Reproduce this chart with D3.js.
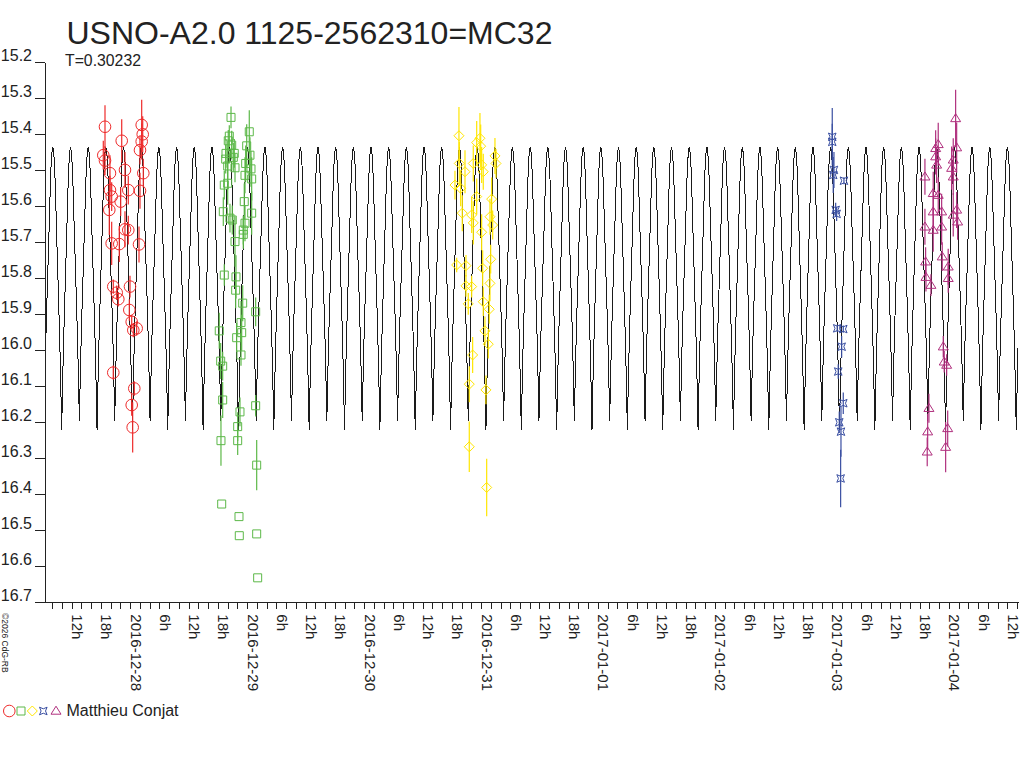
<!DOCTYPE html>
<html><head><meta charset="utf-8">
<script src="https://cdn.jsdelivr.net/npm/d3@7"></script>
<style>
html,body{margin:0;padding:0;background:#fff;}
svg{display:block;font-family:"Liberation Sans",Arial,sans-serif;}
</style></head><body>
<svg id="chart" width="1024" height="768"></svg>
<script>
// ---------------- data ----------------
const titleText = "USNO-A2.0 1125-2562310=MC32";
const periodText = "T=0.30232";
const observerName = "Matthieu Conjat";
const copyrightText = "©2026 CdG-RB";

const periodDays = 0.30232;
const epochHours = -14.06;          // primary minimum, hours from 2016-12-28 00:00 UT
const xStartISO = "2016-12-27T06:31:00Z";
const xEndISO = "2017-01-04T14:12:00Z";
const baseISO = "2016-12-28T00:00:00Z";

// model light curve over one period (phase 0 = primary minimum)
const phaseGrid = [0,0.025,0.05,0.075,0.1,0.125,0.15,0.175,0.2,0.225,0.25,
  0.275,0.3,0.325,0.35,0.375,0.4,0.425,0.45,0.475,0.5,
  0.525,0.55,0.575,0.6,0.625,0.65,0.675,0.7,0.725,0.75,
  0.775,0.8,0.825,0.85,0.875,0.9,0.925,0.95,0.975,1];
const phaseMag = [16.22,16.10,15.993,15.902,15.819,15.735,15.651,15.561,15.49,15.451,15.435,
  15.450,15.488,15.557,15.644,15.725,15.807,15.887,15.975,16.079,16.195,
  16.079,15.975,15.887,15.807,15.725,15.644,15.557,15.488,15.450,15.435,
  15.451,15.49,15.561,15.651,15.735,15.819,15.902,15.993,16.10,16.22];

const yTicks = [15.2,15.3,15.4,15.5,15.6,15.7,15.8,15.9,16.0,16.1,16.2,16.3,16.4,16.5,16.6,16.7];
const hourTickHours = [6,12,18];
const hourTickLabels = ["6h","12h","18h"];
const dayLabels = ["2016-12-28","2016-12-29","2016-12-30","2016-12-31","2017-01-01","2017-01-02","2017-01-03","2017-01-04"];

// observations: [hours from 2016-12-28 00:00 UT, magnitude, error]
const redObs = [
[-5.17,15.379,0.06],[-1.74,15.418,0.06],[2.36,15.374,0.07],[2.57,15.400,0.05],[2.36,15.420,0.05],
[2.01,15.444,0.04],[-5.52,15.458,0.04],[-5.17,15.473,0.04],[-4.15,15.508,0.05],[-1.07,15.499,0.05],
[2.69,15.508,0.04],[-4.15,15.555,0.04],[-0.39,15.555,0.04],[2.01,15.557,0.05],[-3.80,15.573,0.04],
[-1.95,15.587,0.04],[-4.29,15.610,0.07],[-1.07,15.664,0.05],[-0.39,15.666,0.04],[-3.80,15.703,0.06],
[-2.24,15.705,0.05],[1.81,15.706,0.05],[-3.47,15.823,0.02],[-2.77,15.840,0.02],[-2.44,15.858,0.02],
[-0.04,15.823,0.03],[-0.18,15.888,0.03],[0.31,15.921,0.02],[1.33,15.939,0.02],[0.64,15.944,0.02],
[-3.47,16.062,0.02],[0.84,16.106,0.02],[0.31,16.152,0.03],[0.51,16.214,0.07]];

const greenObs = [
[20.69,15.353,0.03],[24.44,15.393,0.06],[20.34,15.405,0.03],[20.13,15.418,0.03],[20.83,15.430,0.04],
[23.91,15.432,0.06],[21.36,15.453,0.04],[19.66,15.453,0.04],[24.58,15.458,0.05],[19.60,15.469,0.04],
[21.16,15.464,0.04],[23.70,15.481,0.05],[20.01,15.488,0.05],[21.51,15.493,0.04],[24.79,15.496,0.05],
[23.56,15.514,0.05],[24.93,15.524,0.06],[19.31,15.541,0.04],[20.01,15.536,0.06],[23.41,15.587,0.05],
[19.11,15.615,0.04],[24.93,15.619,0.06],[20.48,15.633,0.04],[20.95,15.638,0.04],[23.56,15.647,0.05],
[23.21,15.666,0.04],[23.21,15.678,0.04],[21.51,15.698,0.07],[19.31,15.791,0.03],[21.71,15.796,0.06],
[21.65,15.833,0.05],[23.09,15.869,0.05],[25.75,15.893,0.04],[22.74,15.923,0.06],[18.28,15.946,0.05],
[22.88,15.951,0.05],[21.85,15.965,0.04],[22.74,16.013,0.03],[18.57,16.030,0.05],[18.98,16.044,0.04],
[18.98,16.138,0.05],[25.75,16.154,0.03],[22.53,16.171,0.04],[22.06,16.212,0.04],[18.63,16.251,0.07],
[22.06,16.251,0.04],[25.96,16.319,0.07],[18.78,16.427,0],[22.33,16.462,0],[22.39,16.515,0],
[25.96,16.510,0],[26.16,16.632,0]];

const yellowObs = [
[67.47,15.404,0.08],[71.78,15.411,0.07],[71.11,15.423,0.06],[71.93,15.433,0.06],[67.54,15.481,0.06],
[70.41,15.481,0.05],[74.86,15.460,0.05],[75.07,15.481,0.04],[72.13,15.485,0.05],[68.71,15.504,0.06],
[72.46,15.504,0.05],[66.65,15.541,0.04],[67.82,15.550,0.05],[71.11,15.573,0.05],[74.18,15.580,0.06],
[68.15,15.619,0.05],[70.08,15.624,0.05],[73.84,15.629,0.05],[70.41,15.646,0.06],[74.39,15.652,0.04],
[72.13,15.672,0.05],[67.00,15.763,0.02],[68.91,15.765,0.03],[72.34,15.772,0.05],[73.98,15.747,0.04],
[68.91,15.821,0.03],[70.08,15.823,0.03],[73.84,15.814,0.05],[69.38,15.871,0.03],[72.46,15.865,0.04],
[73.69,15.886,0.04],[72.81,15.946,0.04],[73.49,15.983,0.04],[70.28,16.013,0.05],[69.59,16.094,0.05],
[73.01,16.110,0.04],[69.59,16.268,0.07],[73.16,16.381,0.08]];

const blueObs = [
[144.08,15.407,0.08],[144.08,15.421,0.05],[144.43,15.499,0.05],[144.28,15.513,0.05],[146.48,15.529,0.01],
[144.78,15.610,0.02],[144.98,15.621,0.02],[145.10,15.939,0.01],[146.34,15.941,0.01],[146.01,15.990,0.03],
[145.31,16.059,0.02],[146.34,16.147,0.03],[145.52,16.200,0.03],[145.87,16.226,0.07],[145.80,16.356,0.08]];

const purpleObs = [
[169.40,15.356,0.08],[165.83,15.428,0.06],[169.61,15.437,0.07],[165.30,15.439,0.05],[165.30,15.462,0.05],
[168.91,15.471,0.06],[165.50,15.485,0.05],[168.58,15.494,0.06],[163.10,15.518,0.05],[168.91,15.518,0.05],
[164.80,15.564,0.06],[165.83,15.569,0.05],[169.61,15.610,0.05],[164.80,15.615,0.06],[166.53,15.615,0.05],
[168.91,15.624,0.06],[169.81,15.643,0.05],[163.10,15.657,0.05],[166.53,15.657,0.05],[164.80,15.666,0.06],
[166.65,15.740,0.04],[163.24,15.754,0.04],[167.88,15.768,0.05],[163.31,15.797,0.04],[167.88,15.800,0.04],
[164.33,15.819,0.03],[166.86,15.990,0.03],[167.06,16.032,0.03],[167.56,16.041,0.03],[163.92,16.161,0.04],
[163.66,16.226,0.05],[167.77,16.217,0.05],[163.57,16.282,0.04],[167.35,16.269,0.07]];

const seriesNames = ["red","green","yellow","blue","purple"];
const seriesColors = ["#ee2a2a","#5cb848","#ffe600","#3a4fa2","#b0307e"];
const seriesShapes = ["circle","square","diamond","star4","triangle"];

// ---------------- drawing ----------------
const svg = d3.select("#chart");
const base = new Date(baseISO).getTime();
const H = 3600e3;
const toDate = h => new Date(base + h * H);

const x = d3.scaleUtc().domain([new Date(xStartISO), new Date(xEndISO)]).range([45, 1018]);
const y = d3.scaleLinear().domain([15.2, 16.7]).range([62.3, 602.3]);

// title & texts
svg.append("text").attr("x", 66.5).attr("y", 43.5).attr("font-size", 32).attr("fill", "#222").text(titleText);
svg.append("text").attr("x", 65).attr("y", 65.5).attr("font-size", 15.8).attr("fill", "#222").text(periodText);

// model curve
const curvePts = [];
const [t0, t1] = x.domain().map(d => (d.getTime() - base) / H);
const Ph = periodDays * 24;
const kStart = Math.floor((t0 - epochHours) / Ph) - 1;
const kEnd = Math.ceil((t1 - epochHours) / Ph) + 1;
for (let k = kStart; k <= kEnd; k++) {
  phaseGrid.forEach((p, i) => {
    if (i === phaseGrid.length - 1) return;
    curvePts.push([epochHours + (k + p) * Ph, phaseMag[i]]);
  });
}
svg.append("clipPath").attr("id", "plotclip").append("rect")
  .attr("x", 45).attr("y", 40).attr("width", 973).attr("height", 580);
svg.append("path")
  .datum(curvePts)
  .attr("clip-path", "url(#plotclip)")
  .attr("fill", "none").attr("stroke", "#1a1a1a").attr("stroke-width", 1)
  .attr("shape-rendering", "crispEdges")
  .attr("d", d3.line().x(d => x(toDate(d[0]))).y(d => y(d[1])));

// y axis
const yAxis = d3.axisLeft(y).tickValues(yTicks).tickSize(10).tickSizeOuter(0).tickFormat(d3.format(".1f"));
const gy = svg.append("g").attr("transform", "translate(45,0)").call(yAxis);
gy.selectAll("path,line").attr("stroke", "#222").attr("shape-rendering", "crispEdges");
gy.selectAll("text").attr("x", -13).attr("dy", 0).attr("y", -2)
  .attr("font-size", 16).attr("fill", "#222").attr("font-family", "Liberation Sans, Arial, sans-serif");

// x axis
const xTickVals = d3.utcHour.every(2).range(x.domain()[0], x.domain()[1]);
const xFmt = d => {
  const hr = d.getUTCHours();
  if (hr === 0) {
    const idx = Math.round((d.getTime() - base) / (24 * H));
    return dayLabels[idx] || "";
  }
  const j = hourTickHours.indexOf(hr);
  return j >= 0 ? hourTickLabels[j] : "";
};
const xAxis = d3.axisBottom(x).tickValues(xTickVals).tickSize(7).tickSizeOuter(0).tickFormat(xFmt);
const gx = svg.append("g").attr("transform", "translate(0,602.3)").call(xAxis);
gx.selectAll("path,line").attr("stroke", "#222").attr("shape-rendering", "crispEdges");
gx.selectAll("text")
  .attr("transform", "rotate(90)")
  .attr("x", 12).attr("y", 0).attr("dy", 0)
  .attr("text-anchor", "start")
  .attr("font-size", 15).attr("fill", "#222").attr("font-family", "Liberation Sans, Arial, sans-serif");

// marker shapes
function shapePath(kind) {
  switch (kind) {
    case "square": return "M-4,-4H4V4H-4Z";
    case "diamond": return "M0,-5L5,0L0,5L-5,0Z";
    case "star4": return "M-3.8,-3.8L0,-2.2L3.8,-3.8L2.2,0L3.8,3.8L0,2.2L-3.8,3.8L-2.2,0Z";
    case "triangle": return "M0,-4.8L5,3.2L-5,3.2Z";
  }
  return null;
}
function drawMarker(g, kind, color, cx, cy) {
  if (kind === "circle") {
    g.append("circle").attr("cx", cx).attr("cy", cy).attr("r", 5.8)
      .attr("fill", "none").attr("stroke", color).attr("stroke-width", 1);
  } else {
    g.append("path").attr("d", shapePath(kind)).attr("transform", `translate(${cx},${cy})`)
      .attr("fill", "none").attr("stroke", color).attr("stroke-width", 1);
  }
}

const allObs = [redObs, greenObs, yellowObs, blueObs, purpleObs];
allObs.forEach((obs, si) => {
  const color = seriesColors[si];
  const g = svg.append("g").attr("class", "series-" + seriesNames[si]);
  g.selectAll("line.err").data(obs.filter(d => d[2] > 0)).join("line")
    .attr("class", "err")
    .attr("x1", d => x(toDate(d[0]))).attr("x2", d => x(toDate(d[0])))
    .attr("y1", d => y(d[1] - d[2])).attr("y2", d => y(d[1] + d[2]))
    .attr("stroke", color).attr("stroke-width", 1.2);
  obs.forEach(d => drawMarker(g, seriesShapes[si], color, x(toDate(d[0])), y(d[1])));
});

// legend
const legX = [9.3, 21, 32.3, 43.3, 56];
const lg = svg.append("g");
seriesShapes.forEach((s, i) => drawMarker(lg, s, seriesColors[i], legX[i], 711));
svg.append("text").attr("x", 66.5).attr("y", 716).attr("font-size", 16).attr("fill", "#222").text(observerName);

// copyright (vertical)
svg.append("text").attr("transform", "translate(2,613) rotate(90)")
  .attr("font-size", 8.5).attr("fill", "#222").text(copyrightText);
</script>
</body></html>
